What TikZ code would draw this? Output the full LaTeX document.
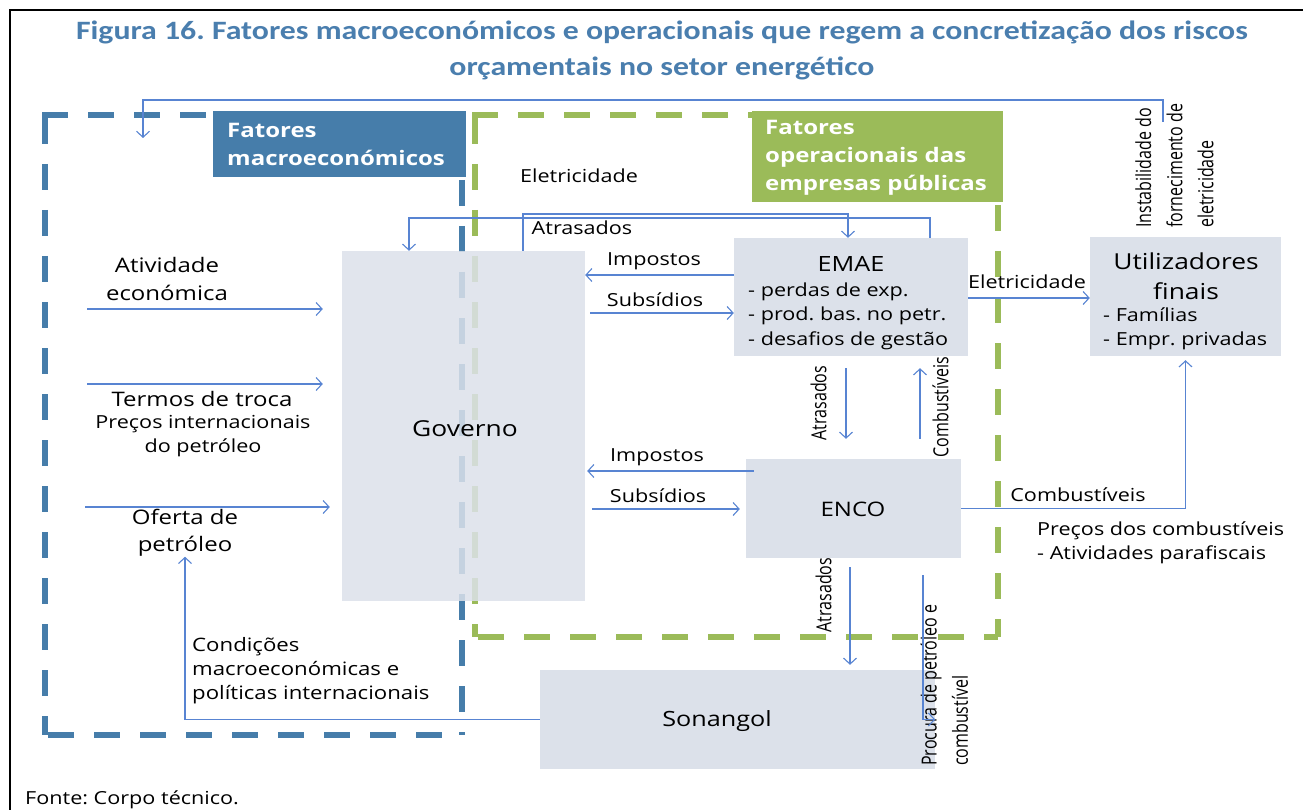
\documentclass[tikz,border=0pt]{standalone}
\usepackage{graphicx}
\usepackage{fontspec}
\setmainfont[FakeStretch=1.2]{Open Sans}
\newfontfamily\rotfont{Open Sans}
\newfontfamily\titlefont[FakeStretch=1.2]{Carlito}
\usetikzlibrary{arrows.meta}
\frenchspacing
\definecolor{titleblue}{RGB}{74,126,174}
\definecolor{macroblue}{RGB}{70,125,170}
\definecolor{opgreen}{RGB}{155,187,89}
\definecolor{boxfill}{RGB}{220,225,234}
\definecolor{arrowc}{RGB}{88,132,210}
\newcommand{\fs}[2]{\fontsize{#1}{#2}\selectfont}
\newcommand{\vtxt}[1]{\scalebox{1}[1.3]{\begin{tabular}{@{}l@{}}#1\end{tabular}}}
\tikzset{
  box/.style={fill=boxfill, draw=none, inner sep=0pt},
  arr/.style={draw=arrowc, line width=1.1pt, -{Straight Barb[length=6pt,width=13pt,line width=1.1pt]}},
  bdash/.style={draw=macroblue, line width=6.5pt, dash pattern=on 26pt off 20pt},
  gdash/.style={draw=opgreen, line width=6.5pt, dash pattern=on 26pt off 20pt},
  txt/.style={inner sep=0pt, text=black, font=\fs{18}{24}},
  big/.style={inner sep=0pt, text=black, font=\fs{20}{28}},
  rot/.style={inner sep=0pt, text=black, rotate=90, font=\rotfont\fs{16}{24}},
  lbl/.style={inner sep=0pt, text=white, font=\bfseries\fs{20}{28}, align=left, anchor=west},
}
\begin{document}
\begin{tikzpicture}[x=1pt,y=-1pt]
\useasboundingbox (0,0) rectangle (1303,810);
% frame
\draw[black, line width=2.5pt] (10,810) -- (10,10) -- (1303,10);
% title
\node[inner sep=0pt, text=titleblue, font=\titlefont\bfseries\fs{26.5}{36}] (t1) at (662,32) {Figura 16. Fatores macroeconómicos e operacionais que regem a concretização dos riscos};
\node[inner sep=0pt, text=titleblue, font=\titlefont\bfseries\fs{26.5}{36}] (t2) at (662,68) {orçamentais no setor energético};

% dashed regions
\draw[bdash] (42,115) -- (213,115);
\draw[bdash] (45,118) -- (45,735);
\draw[bdash] (48,735) -- (462,735);
\draw[bdash] (462,180) -- (462,735);
\draw[gdash] (472,115) -- (752,115);
\draw[gdash] (475,118) -- (475,637);
\draw[gdash] (478,637) -- (998,637);
\draw[gdash] (998,205) -- (998,637);

% label boxes
\node[fill=macroblue, minimum width=253pt, minimum height=66pt, inner sep=0pt, anchor=north west] (macrobox) at (213,111) {};
\node[lbl] (macrotxt) at (227,144) {Fatores\\macroeconómicos};
\node[fill=opgreen, minimum width=251pt, minimum height=91pt, inner sep=0pt, anchor=north west] (opbox) at (752,111) {};
\node[lbl] (optxt) at (765,158) {Fatores\\operacionais das\\empresas públicas};

% boxes
\node[box, fill opacity=0.85, minimum width=243pt, minimum height=350pt] (gov) at (463.5,426) {};
\node[txt, font=\fs{22}{28}] (govt) at (465,429) {Governo};
\node[box, minimum width=234pt, minimum height=118pt] (emae) at (851,297) {};
\node[txt, font=\fs{21}{28}] (emaet) at (851,264) {EMAE};
\node[txt, anchor=west, align=left, font=\fs{18}{24.5}] (emaes) at (748,316) {- perdas de exp.\\- prod. bas. no petr.\\- desafios de gestão};
\node[box, minimum width=191pt, minimum height=119pt] (util) at (1185.5,296.5) {};
\node[txt, align=center, font=\fs{22}{30}] (utilt) at (1186,276) {Utilizadores\\finais};
\node[txt, anchor=west, align=left, font=\fs{18}{24}] (utils) at (1103,329) {- Famílias\\- Empr. privadas};
\node[box, minimum width=215pt, minimum height=99pt] (enco) at (853.5,508.5) {};
\node[txt, font=\fs{20}{28}] (encot) at (853,509) {ENCO};
\node[box, minimum width=395pt, minimum height=99pt] (son) at (737.5,719.5) {};
\node[txt, font=\fs{21}{28}] (sont) at (717,721) {Sonangol};

% left inputs
\node[big, align=center] (ativ) at (167,279) {Atividade\\económica};
\node[big] (termos) at (202,399) {Termos de troca};
\node[txt, align=center] (precos) at (203,436) {Preços internacionais\\do petróleo};
\node[big, align=center, font=\fs{20}{27}] (oferta) at (185,533) {Oferta de\\petróleo};
\coordinate (in1) at (87,309);
\coordinate (in2) at (87,384);
\coordinate (in3) at (85,507);
\draw[arr, shorten >=19pt] (in1) -- (gov.west |- in1);
\draw[arr, shorten >=19pt] (in2) -- (gov.west |- in2);
\draw[arr, shorten >=12pt] (in3) -- (gov.west |- in3);

% top long connector
\coordinate (inst) at (1163,122);
\coordinate (macro) at (143,138);
\draw[arr] (inst) -- ++(0,-22) -| (macro);
\node[rot, anchor=west] (instt) at (1176,228) {\vtxt{Instabilidade do\\fornecimento de\\eletricidade}};

% texts
\node[txt] (elet1) at (579,176) {Eletricidade};
\node[txt] (atr1) at (582,228) {Atrasados};
\node[txt] (imp1) at (654,261) {Impostos};
\node[txt] (sub1) at (655,300) {Subsídios};
\node[txt] (imp2) at (657,457) {Impostos};
\node[txt] (sub2) at (658,496) {Subsídios};
\node[txt] (elet2) at (1027,282) {Eletricidade};
\node[txt] (comb2) at (1078,495) {Combustíveis};
\node[txt, anchor=west, align=left] (precc) at (1037,543) {Preços dos combustíveis\\- Atividades parafiscais};
\node[txt, anchor=west, align=left, font=\fs{18.5}{24}] (cond) at (192,671) {Condições\\macroeconómicas e\\políticas internacionais};
\node[txt, anchor=west] (fonte) at (25,800) {Fonte: Corpo técnico.};

% rotated labels
\node[rot] (atr2) at (820,403) {\vtxt{Atrasados}};
\node[rot] (comb1) at (942,407) {\vtxt{Combustíveis}};
\node[rot] (atr3) at (825,595) {\vtxt{Atrasados}};
\node[rot, anchor=west] (proc) at (946,766) {\vtxt{Procura de petróleo e\\combustível}};

% connectors
\draw[arr] (gov.north -| 523,0) |- (848,214) -- (emae.north -| 848,0);
\draw[arr] (emae.north -| 930,0) |- (409,218) -- (gov.north -| 409,0);
\draw[arr] (emae.west |- 0,275) -- (gov.east |- 0,275);
\draw[arr, shorten <=5pt] (gov.east |- 0,313) -- (emae.west |- 0,313);
\draw[arr, shorten <=-8pt, shorten >=2pt] (enco.west |- 0,471) -- (gov.east |- 0,471);
\draw[arr, shorten <=7pt, shorten >=6pt] (gov.east |- 0,509) -- (enco.west |- 0,509);
\draw[arr] (emae.east |- 0,298) -- (util.west |- 0,298);
\draw[arr, shorten <=12pt, shorten >=20pt] (emae.south -| 846,0) -- (enco.north -| 846,0);
\draw[arr, shorten <=20pt, shorten >=12pt] (enco.north -| 920,0) -- (emae.south -| 920,0);
\draw[arr, shorten >=4pt] (enco.east) -| (util.south);
\draw[arr, shorten <=9pt, shorten >=5pt] (enco.south -| 850,0) -- (son.north -| 850,0);
\draw[arr, shorten <=17pt] (enco.south -| 923,0) |- (son.east);
\draw[arr] (son.west) -| (oferta.south);
\end{tikzpicture}
\end{document}
